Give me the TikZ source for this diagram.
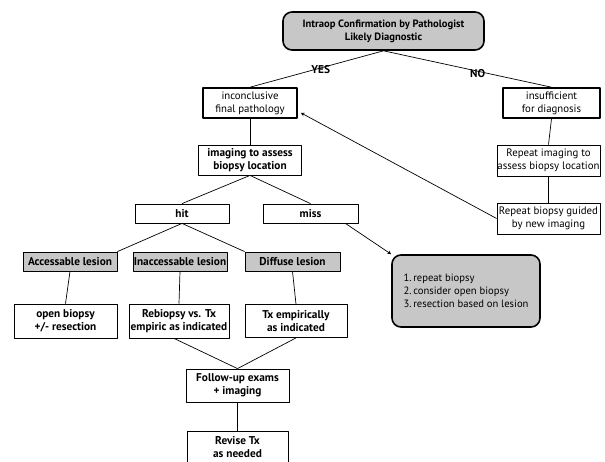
\documentclass[tikz,border=0pt]{standalone}
\usepackage{fontspec}
\setmainfont{PT Sans}
\begin{document}
\begin{tikzpicture}[x=1pt, y=-1pt, font=\fontsize{10.8}{13}\selectfont, line join=round, >=stealth,
	box/.style={draw, fill=white, align=center, inner sep=1pt, line width=0.8pt},
	thickbox/.style={box, line width=1.6pt},
	graybox/.style={box, fill=black!22},
	roundbox/.style={box, fill=black!22, rounded corners=9pt, line width=1.6pt},
	bold/.style={font=\fontsize{11.3}{13}\selectfont\bfseries},
	link/.style={line width=0.7pt}]
	\useasboundingbox (0,0) rectangle (605,461);
	\clip (0,0) rectangle (605,461);
	\node[roundbox, minimum width=201, minimum height=38, font=\fontsize{10.6}{13}\selectfont\bfseries] (top) at (383.5,31) {Intraop Confirmation by Pathologist\\Likely Diagnostic};
	\node[thickbox, minimum width=94, minimum height=30] (incon) at (250,103) {inconclusive\\final pathology};
	\node[thickbox, minimum width=97, minimum height=30] (insuf) at (551.5,103) {insufficient\\for diagnosis};
	\node[box, minimum width=103, minimum height=30, bold] (imag) at (250,160) {imaging to assess\\biopsy location};
	\node[box, minimum width=94, minimum height=19, bold] (hit) at (182,213.5) {hit};
	\node[box, minimum width=95, minimum height=19, bold] (miss) at (310.5,213.5) {miss};
	\node[graybox, minimum width=94, minimum height=19, bold] (acc) at (70,261.5) {Accessable lesion};
	\node[graybox, minimum width=94, minimum height=19, bold, inner sep=0pt] (inacc) at (180,261.5) {Inaccessable lesion};
	\node[graybox, minimum width=95, minimum height=19, bold] (diff) at (292.5,261.5) {Diffuse lesion};
	\node[box, minimum width=103, minimum height=34, bold] (open) at (65.5,321) {open biopsy\\+/- resection};
	\node[box, minimum width=100, minimum height=34, bold, inner sep=0pt] (rebi) at (179,321) {Rebiopsy vs. Tx\\empiric as indicated};
	\node[box, minimum width=102, minimum height=33, bold] (txemp) at (296,321) {Tx empirically\\as indicated};
	\node[box, minimum width=103, minimum height=33, bold] (follow) at (237.5,385.5) {Follow-up exams\\+ imaging};
	\node[box, minimum width=101, minimum height=32, bold] (revise) at (237.5,447) {Revise Tx\\as needed};
	\node[box, minimum width=103, minimum height=31, inner sep=0pt] (rimg) at (548.5,160.5) {Repeat imaging to\\assess biopsy location};
	\node[box, minimum width=103, minimum height=31, inner sep=0pt] (rbio) at (548.5,218.5) {Repeat biopsy guided\\by new imaging};
	\node[roundbox, minimum width=148, minimum height=72, align=left, font=\fontsize{10.6}{13}\selectfont] (list) at (466,291) {1.\,repeat biopsy\\2.\,consider open biopsy\\3.\,resection based on lesion};
	\draw[link] (top.south) -- node[pos=0.47, bold, yshift=-2] {YES} (incon.north);
	\draw[link] (top.south) -- node[pos=0.56, bold, yshift=-2] {NO} (insuf.north);
	\draw[link] (incon.south) -- (imag.north);
	\draw[link] (imag.south) -- (hit.north);
	\draw[link] (imag.south) -- (miss.north);
	\draw[link] (hit.south) -- (acc.north east);
	\draw[link] (hit.south) -- (diff.north west);
	\draw[link] (acc.south) -- (open.north);
	\draw[link] (inacc.south) -- (rebi.north);
	\draw[link] (diff.south) -- (txemp.north);
	\draw[link] ([xshift=-5]rebi.south) -- (follow.north);
	\draw[link] (txemp.south) -- (follow.north);
	\draw[link] (follow.south) -- (revise.north);
	\draw[link] (insuf.south) -- (rimg.north);
	\draw[link] (rimg.south) -- (rbio.north);
	\draw[link, ->] (rbio.west) -- ([shift={(3,-6)}]incon.south east);
	\draw[link, ->] ([xshift=-13]miss.south east) -- (list.north west);
\end{tikzpicture}
\end{document}
